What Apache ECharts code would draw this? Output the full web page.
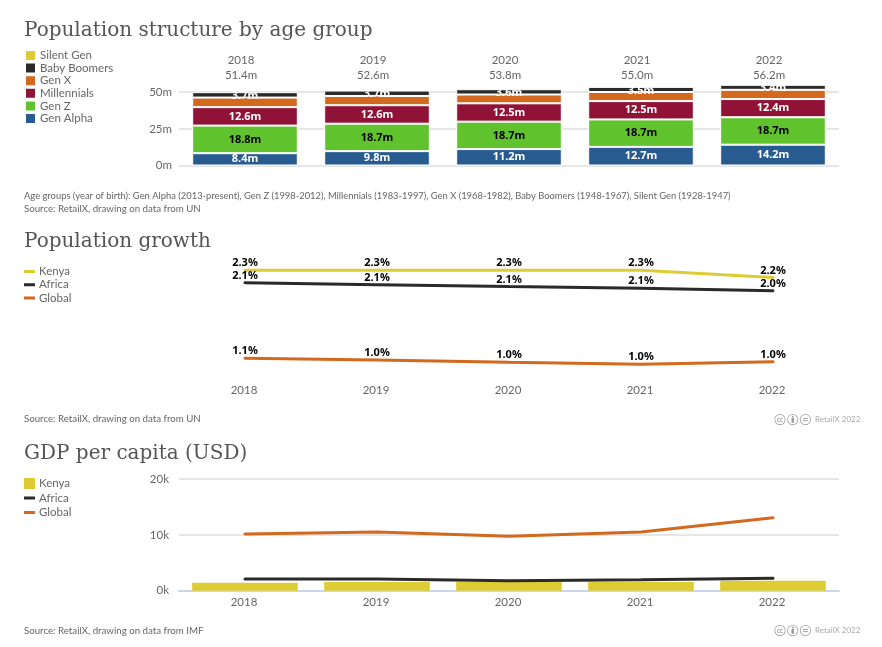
<!DOCTYPE html>
<html>
<head>
<meta charset="utf-8">
<script src="https://cdn.jsdelivr.net/npm/echarts@6/dist/echarts.min.js"></script>
<style>
  html, body { margin: 0; padding: 0; background: #fff; }
  #structure, #growth, #gdp { position: absolute; left: 0; width: 882px; }
  #structure { top: 0; height: 220px; }
  #growth { top: 220px; height: 212px; }
  #gdp { top: 432px; height: 215px; }
</style>
</head>
<body>
<div id="structure"></div>
<div id="growth"></div>
<div id="gdp"></div>
<script>
const years = ["2018", "2019", "2020", "2021", "2022"];

// age groups, millions
const totals = [51.4, 52.6, 53.8, 55.0, 56.2];
const genAlpha = [8.4, 9.8, 11.2, 12.7, 14.2];
const genZ = [18.8, 18.7, 18.7, 18.7, 18.7];
const millennials = [12.6, 12.6, 12.5, 12.5, 12.4];
const genX = [6.5, 6.3, 6.0, 6.2, 6.3];
const babyBoomers = [3.7, 3.7, 3.6, 3.5, 3.4];
// in the legend but no visible bar in the picture
const silentGen = [null, null, null, null, null];

// growth, percent
const kenyaGrowth = [2.304, 2.304, 2.304, 2.304, 2.2];
const africaGrowth = [2.129, 2.1, 2.073, 2.051, 2.016];
const globalGrowth = [1.064, 1.04, 1.008, 0.98, 1.016];

// gdp per capita, usd
const kenyaGdp = [1430, 1560, 1560, 1560, 1790];
const africaGdp = [2100, 2100, 1790, 1970, 2220];
const globalGdp = [10150, 10510, 9740, 10510, 13070];

const YELLOW = "#ddcc33";
const BLACK = "#2a2a2a";
const ORANGE = "#d2691f";
const CRIMSON = "#911237";
const GREEN = "#60c32d";
const BLUE = "#285c91";

const FONT = "Lato";
const TITLE_FONT = "DejaVu Serif";
const TEXT = "#666666";
// thin bar inside the 11x11 legend box, the empty subpaths keep the box size
const LINE_ICON = "path://M0,0L0,0ZM11,11L11,11ZM0,4L11,4L11,7L0,7Z";

const heading = (text, top) => ({
  text,
  left: 24,
  top,
  padding: 0,
  textStyle: { fontFamily: TITLE_FONT, fontSize: 20, fontWeight: "normal", color: "#555555" },
});

const note = (text, y, size) => ({
  type: "text",
  left: 24,
  top: y,
  style: { text, fontFamily: FONT, fontSize: size, fill: TEXT },
});

const credit = (y) => ({
  type: "group",
  left: 774.5,
  top: y,
  children: [
    { type: "ring", shape: { cx: 5.5, cy: 5.5, r: 5.5, r0: 4.8 }, style: { fill: "#999" } },
    { type: "text", x: 5.5, y: 5.5, style: { text: "cc", fontFamily: FONT, fontSize: 6.5, fontWeight: "bold", fill: "#999", align: "center", verticalAlign: "middle" } },
    { type: "ring", shape: { cx: 18.2, cy: 5.5, r: 5.5, r0: 4.8 }, style: { fill: "#999" } },
    { type: "rect", shape: { x: 17, y: 3.8, width: 2.4, height: 5 }, style: { fill: "#999" } },
    { type: "circle", shape: { cx: 18.2, cy: 2.6, r: 0.9 }, style: { fill: "#999" } },
    { type: "ring", shape: { cx: 30.9, cy: 5.5, r: 5.5, r0: 4.8 }, style: { fill: "#999" } },
    { type: "rect", shape: { x: 28.4, y: 4, width: 5, height: 0.9 }, style: { fill: "#999" } },
    { type: "rect", shape: { x: 28.4, y: 6.2, width: 5, height: 0.9 }, style: { fill: "#999" } },
    { type: "text", x: 40.5, y: 5.5, style: { text: "RetailX 2022", fontFamily: FONT, fontSize: 8, fill: "#aaaaaa", verticalAlign: "middle" } },
  ],
});

const legendBase = {
  left: 24,
  orient: "vertical",
  padding: 0,
  itemWidth: 11,
  itemHeight: 11,
  selectedMode: false,
  textStyle: { fontFamily: FONT, fontSize: 11.5, lineHeight: 11, color: TEXT, padding: [0, 0, 0, -1] },
};

const gridLine = { show: true, showMaxLine: false, lineStyle: { color: "#e6e6e6", width: 2 } };

const stackBar = (name, data, color, labelColor, extra) => ({
  name,
  type: "bar",
  stack: "age",
  data,
  barWidth: "80%",
  itemStyle: { color, borderColor: "#ffffff", borderWidth: 1 },
  label: {
    show: true,
    position: "inside",
    formatter: (p) => p.value.toFixed(1) + "m",
    fontFamily: "Noto Sans",
    fontWeight: "bold",
    fontSize: 11,
    color: labelColor,
    ...extra,
  },
});

const structureChart = echarts.init(document.getElementById("structure"));
structureChart.setOption({
  animation: false,
  title: heading("Population structure by age group", 21),
  legend: {
    ...legendBase,
    top: 49,
    itemGap: -0.4,
    data: ["Silent Gen", "Baby Boomers", "Gen X", "Millennials", "Gen Z", "Gen Alpha"].map((name) => ({ name, icon: "rect" })),
  },
  grid: { left: 179, right: 43, top: 55.5, height: 110 },
  xAxis: {
    type: "category",
    position: "top",
    data: years,
    axisLine: { show: false },
    axisTick: { show: false },
    axisLabel: {
      formatter: (value, i) => value + "\n" + totals[i].toFixed(1) + "m",
      fontFamily: FONT,
      fontSize: 11.5,
      lineHeight: 14.5,
      color: TEXT,
      margin: -27,
      padding: [0, 8, 0, 0],
    },
  },
  yAxis: {
    type: "value",
    min: 0,
    max: 75,
    interval: 25,
    splitLine: gridLine,
    axisLabel: {
      showMaxLabel: false,
      formatter: (v) => v + "m",
      fontFamily: FONT,
      fontSize: 11.5,
      color: TEXT,
      margin: 7,
      padding: [0, 0, 3, 0],
    },
  },
  series: [
    stackBar("Gen Alpha", genAlpha, BLUE, "#ffffff"),
    stackBar("Gen Z", genZ, GREEN, "#000000"),
    stackBar("Millennials", millennials, CRIMSON, "#ffffff"),
    stackBar("Gen X", genX, ORANGE, ORANGE),
    stackBar("Baby Boomers", babyBoomers, BLACK, "#ffffff", { offset: [0, 1] }),
    stackBar("Silent Gen", silentGen, YELLOW, "#000000", { show: false }),
  ],
  graphic: [
    note("Age groups (year of birth): Gen Alpha (2013-present), Gen Z (1998-2012), Millennials (1983-1997), Gen X (1968-1982), Baby Boomers (1948-1967), Silent Gen (1928-1947)", 191, 9.4),
    note("Source: RetailX, drawing on data from UN", 203.5, 9.7),
  ],
});

const growthLine = (name, data, color) => ({
  name,
  type: "line",
  data,
  // symbol none would drop the labels too, so keep a dot hidden under the line
  symbol: "circle",
  symbolSize: 1,
  showAllSymbol: true,
  lineStyle: { color, width: 3, cap: "round" },
  itemStyle: { color },
  label: {
    show: true,
    position: "top",
    distance: 1,
    formatter: (p) => p.value.toFixed(1) + "%",
    fontFamily: "Noto Sans",
    fontWeight: "bold",
    fontSize: 11,
    color: "#000000",
  },
});

const growthChart = echarts.init(document.getElementById("growth"));
growthChart.setOption({
  animation: false,
  title: heading("Population growth", 12),
  legend: {
    ...legendBase,
    top: 45.5,
    itemGap: 1.2,
    data: ["Kenya", "Africa", "Global"].map((name) => ({ name, icon: LINE_ICON })),
  },
  grid: { left: 179, right: 43, top: 36.3, height: 120.7 },
  xAxis: {
    type: "category",
    data: years,
    axisLine: { show: false },
    axisTick: { show: false },
    axisLabel: { fontFamily: FONT, fontSize: 11.5, color: TEXT, margin: 7, padding: [0, 2, 0, 0] },
  },
  yAxis: { type: "value", min: 0.8, max: 2.5, show: false },
  series: [
    growthLine("Kenya", kenyaGrowth, YELLOW),
    growthLine("Africa", africaGrowth, BLACK),
    growthLine("Global", globalGrowth, ORANGE),
  ],
  graphic: [note("Source: RetailX, drawing on data from UN", 194, 9.7), credit(194)],
});

const gdpLine = (name, data, color) => ({
  name,
  type: "line",
  data,
  symbol: "none",
  z: 3,
  lineStyle: { color, width: 3, cap: "round" },
  itemStyle: { color },
});

const gdpChart = echarts.init(document.getElementById("gdp"));
gdpChart.setOption({
  animation: false,
  title: heading("GDP per capita (USD)", 12),
  legend: {
    ...legendBase,
    top: 45.5,
    itemGap: 2.5,
    data: [
      { name: "Kenya", icon: "rect" },
      { name: "Africa", icon: LINE_ICON },
      { name: "Global", icon: LINE_ICON },
    ],
  },
  grid: { left: 179, right: 43, top: 47, height: 111.7 },
  xAxis: {
    type: "category",
    data: years,
    axisLine: { lineStyle: { color: "#ccd6eb", width: 2 } },
    axisTick: { show: false },
    axisLabel: { fontFamily: FONT, fontSize: 11.5, color: TEXT, margin: 6, padding: [0, 2, 0, 0] },
  },
  yAxis: {
    type: "value",
    min: 0,
    max: 20000,
    interval: 10000,
    splitLine: { show: true, lineStyle: { color: "#e6e6e6", width: 2 } },
    axisLabel: {
      formatter: (v) => v / 1000 + "k",
      fontFamily: FONT,
      fontSize: 11.5,
      color: TEXT,
      margin: 10,
    },
  },
  series: [
    { name: "Kenya", type: "bar", data: kenyaGdp, barWidth: "80%", itemStyle: { color: YELLOW } },
    gdpLine("Africa", africaGdp, BLACK),
    gdpLine("Global", globalGdp, ORANGE),
  ],
  graphic: [note("Source: RetailX, drawing on data from IMF", 194, 9.7), credit(193)],
});
</script>
</body>
</html>
